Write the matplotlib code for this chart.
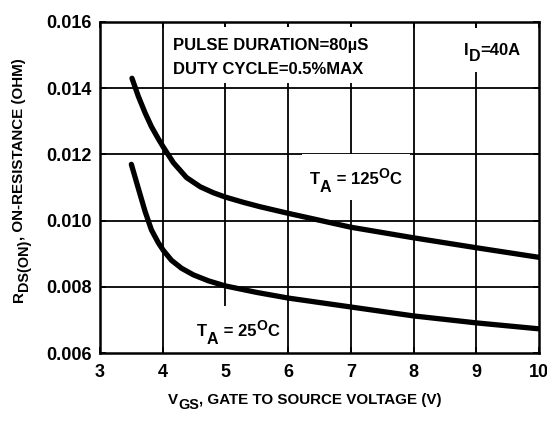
import matplotlib
matplotlib.use("Agg")
import matplotlib.pyplot as plt
from matplotlib.patches import Rectangle

plt.rcParams['font.family'] = ['Liberation Sans', 'DejaVu Sans']
plt.rcParams['font.weight'] = 'bold'

# Data
vgs_125 = [3.51, 3.61, 3.72, 3.82, 3.93, 4.01, 4.17, 4.38, 4.6, 4.81, 5.0, 5.29, 5.55, 6.0,
           7.0, 8.0, 9.0, 10.0]
rds_125 = [0.01430, 0.01376, 0.01325, 0.01284, 0.01247, 0.01222, 0.01175, 0.01130, 0.01102,
           0.01084, 0.01071, 0.01055, 0.01042, 0.01022, 0.00980, 0.00948, 0.00918, 0.00889]
vgs_25 = [3.5, 3.61, 3.72, 3.82, 3.93, 4.01, 4.14, 4.3, 4.49, 4.73, 4.99, 5.5, 6.0,
          7.0, 8.0, 9.0, 10.0]
rds_25 = [0.01170, 0.01098, 0.01027, 0.00972, 0.00933, 0.00910, 0.00880, 0.00856, 0.00836,
          0.00818, 0.00803, 0.00783, 0.00766, 0.00739, 0.00712, 0.00691, 0.00673]

xticks = [3, 4, 5, 6, 7, 8, 9, 10]
yticks = [0.006, 0.008, 0.010, 0.012, 0.014, 0.016]
ytick_labels = ['0.006', '0.008', '0.010', '0.012', '0.014', '0.016']

W, H = 547, 424
fig = plt.figure(figsize=(W / 100, H / 100), dpi=100)
ax = fig.add_axes([100 / W, 1 - 353 / H, 439 / W, 331 / H])
ax.set_xlim(3, 10)
ax.set_ylim(0.006, 0.016)

# grid drawn manually beneath the white label boxes
for xv in xticks[1:-1]:
    ax.axvline(xv, color='black', lw=1.3, zorder=1)
for yv in yticks[1:-1]:
    ax.axhline(yv, color='black', lw=1.3, zorder=1)

ax.plot(vgs_125, rds_125, color='black', lw=3.8, solid_capstyle='round',
        solid_joinstyle='round', zorder=4)
ax.plot(vgs_25, rds_25, color='black', lw=3.8, solid_capstyle='round',
        solid_joinstyle='round', zorder=4)

ax.set_xticks(xticks)
ax.set_xticklabels([str(v) for v in xticks], fontsize=13, fontweight='bold')
ax.set_yticks(yticks)
ax.set_yticklabels(ytick_labels, fontsize=13, fontweight='bold')
ax.tick_params(direction='in', length=4, width=1.3, top=True, right=True)
ax.tick_params(axis='x', pad=8)
ax.tick_params(axis='y', pad=6)
for s in ax.spines.values():
    s.set_linewidth(1.8)

# white boxes behind the in-plot labels (x0, y0, x1, y1 in data units)
boxes = [(4.08, 0.01416, 7.75, 0.01585),
         (8.66, 0.01449, 9.86, 0.01582),
         (6.22, 0.01062, 7.94, 0.01201),
         (4.44, 0.00600, 5.95, 0.00742)]
for x0, y0, x1, y1 in boxes:
    ax.add_patch(Rectangle((x0, y0), x1 - x0, y1 - y0, facecolor='white',
                           edgecolor='none', zorder=2))


def rich(x, y, pieces, transform, rotation=0):
    """pieces: list of (text, fontsize, baseline shift in points)."""
    s0, f0, sh0 = pieces[0]
    if rotation == 0:
        t = ax.text(x, y, s0, transform=transform, fontsize=f0, fontweight='bold',
                    ha='left', va='baseline', zorder=3, clip_on=False)
    else:
        t = ax.text(x, y, s0, transform=transform, fontsize=f0, fontweight='bold',
                    ha='right', va='bottom', rotation=90, zorder=3, clip_on=False)
    prev = sh0
    for s, f, sh in pieces[1:]:
        d = sh - prev
        if rotation == 0:
            t = ax.annotate(s, xy=(1, 0), xycoords=t, xytext=(0, d),
                            textcoords='offset points', fontsize=f, fontweight='bold',
                            ha='left', va='bottom', zorder=3, annotation_clip=False)
        else:
            t = ax.annotate(s, xy=(1, 1), xycoords=t, xytext=(-d, 0),
                            textcoords='offset points', fontsize=f, fontweight='bold',
                            ha='right', va='bottom', rotation=90, zorder=3,
                            annotation_clip=False)
        prev = sh
    return t


ax.text(4.164, 0.015154, 'PULSE DURATION=80\u00b5S', fontsize=12, fontweight='bold',
        ha='left', va='baseline', zorder=3)
ax.text(4.164, 0.014429, 'DUTY CYCLE=0.5%MAX', fontsize=12, fontweight='bold',
        ha='left', va='baseline', zorder=3)
rich(8.804, 0.015003, [('I', 12, 0), ('D', 11.5, -4.5), ('=40A', 12, 0)], ax.transData)
rich(6.349, 0.011106, [('T', 12, 0), ('A', 11.5, -5.5), (' = 125', 12, 0),
                       ('O', 10, 4.5), ('C', 12, 0)], ax.transData)
rich(4.547, 0.006514, [('T', 12, 0), ('A', 11.5, -5.5), (' = 25', 12, 0),
                       ('O', 10, 4.5), ('C', 12, 0)], ax.transData)

rich(168 / W, 1 - 404 / H, [('V', 10.9, 0), ('GS', 10.4, -3.5),
                            (', GATE TO SOURCE VOLTAGE (V)', 10.9, 0)], fig.transFigure)
rich(26.5 / W, 1 - 302 / H, [('R', 10.9, 0), ('DS(ON)', 10.4, -3.5),
                             (', ON-RESISTANCE (OHM)', 10.9, 0)], fig.transFigure,
     rotation=90)

fig.savefig('out.png', dpi=100)
